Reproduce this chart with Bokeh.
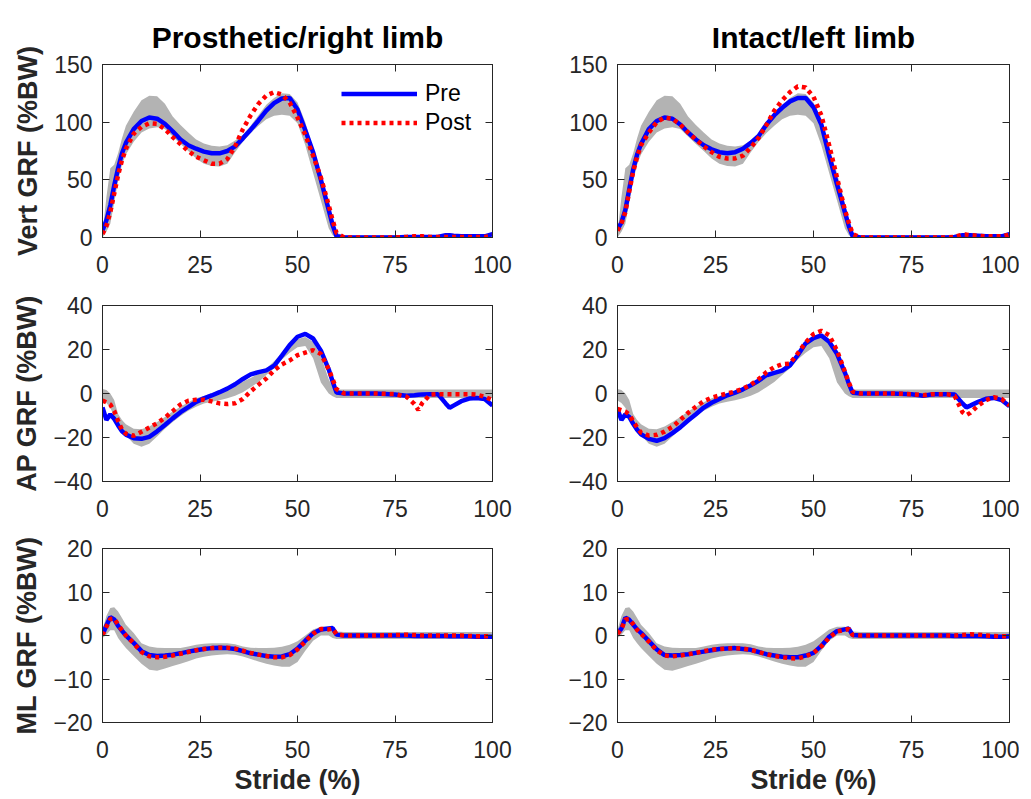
from bokeh.plotting import figure
from bokeh.layouts import column, row
from bokeh.models import LinearAxis, FixedTicker, Legend, LegendItem, Range1d
from bokeh.embed import file_html
from bokeh.resources import INLINE

# ---------------- data ----------------
stride = [0, 1, 2, 3, 4, 5, 6, 8, 10, 12, 14, 16, 18, 20, 22, 24, 26, 28, 30, 32,
          34, 36, 38, 40, 42, 44, 46, 48, 50, 52, 54, 56, 58, 59, 60, 62, 65, 70, 75, 78,
          80, 81, 82, 84, 86, 88, 89, 90, 92, 94, 96, 98, 100]

# Vertical GRF (%BW) - control band
vert_band_hi = [4, 35, 60, 63, 73, 86, 97, 109, 119, 123, 122.5, 116, 105, 97.5, 91, 85, 81.5, 79.5, 79, 80,
                84, 89, 97, 106, 115, 121, 125, 124.5, 117, 100, 77, 56, 30, 16, 4, 2, 2, 2, 2, 2,
                2, 2, 2, 2, 2, 2.5, 2.5, 2.5, 2, 2, 2, 2, 2.5]
vert_band_lo = [0, 5, 12, 30, 49, 63, 72, 83, 91, 94.5, 95.5, 94, 87.5, 81, 75, 68.5, 64, 62, 61.5, 64,
                74, 83, 90.5, 97, 102.5, 105.5, 106.5, 105.5, 99, 80, 56, 32, 8, 2, 0, 0, 0, 0, 0, 0,
                0, 0, 0, 0, 0, 0, 0, 0, 0, 0, 0, 0, 0]
vert_pre_prosthetic = [6, 15, 28, 45, 60, 73, 82, 94, 101, 104, 103, 98.5, 92, 85, 80, 77, 74.5, 73, 73, 75,
                       79, 86, 93.5, 101.5, 110, 116.5, 120.5, 121, 111, 93, 74, 50, 24, 11, 1, 0, 0, 0, 0, 0.5,
                       0.5, 0.5, 0.5, 0.5, 0.5, 2, 2, 1.5, 1, 1, 1, 1, 3]
vert_post_prosthetic = [3, 10, 22, 38, 54, 67, 77, 90, 96, 99, 98.5, 94, 87, 81, 75, 70, 67, 64, 64, 68,
                        79, 94, 106, 116, 123, 126, 124, 117, 104, 89, 71, 52, 28, 15, 4, 0, 0, 0, 0, 0.5,
                        1, 1, 1, 0.5, 0.5, 0.5, 0.5, 0.5, 0.5, 0.5, 0.5, 0.5, 1.5]
vert_pre_intact = [7, 13, 24, 42, 59, 72, 81, 94, 101, 104, 103, 98, 91, 85, 80, 76.5, 74, 73, 74, 77,
                   82, 88, 98, 106, 112.5, 118, 121, 121, 113, 98, 71, 46, 22, 10, 1, 0, 0, 0, 0, 0,
                   0, 0, 0, 0, 0.5, 2, 2, 2, 1.5, 1, 1, 1, 3]
vert_post_intact = [6, 12, 22, 40, 57, 70, 80, 91, 100, 104, 103, 98, 91, 85, 79, 74, 70, 68.5, 68.5, 71,
                    78, 86.5, 97.5, 110, 119, 126, 131, 130, 122, 106, 80, 52, 24, 13, 3, 0, 0, 0, 0, 0,
                    0, 0, 0, 0, 0.5, 2.5, 2.5, 2, 1.5, 1, 1, 1, 2.5]

# Anterior-posterior GRF (%BW)
ap_band_hi = [2.1, 1.6, 0, -3, -9.3, -12, -14, -16, -16.2, -15, -13, -10.7, -8.2, -6, -4, -2.2, -1.1, 0.1, 1.3, 2.8,
              4.3, 5.5, 7.1, 9, 11.4, 14.7, 18.3, 21.7, 24.8, 25.7, 23.5, 17, 6.5, 3, 1.8, 1.8, 1.8, 1.8, 1.8, 1.8,
              1.8, 1.8, 1.8, 1.8, 1.8, 1.8, 1.8, 1.8, 1.8, 1.8, 1.8, 1.8, 1.8]
ap_band_lo = [-3.2, -4.3, -6.5, -10.5, -13.5, -16.5, -19, -22.8, -24.2, -22.8, -19.5, -16, -13, -10.2, -7.8, -6, -4.5, -3.7, -3.1, -2.2,
              -1, 0.6, 2.8, 5.2, 8.4, 11.5, 15.4, 18.5, 21, 21.6, 16, 5, 0, -1.2, -2, -2, -2, -2, -2, -2,
              -2, -2, -2, -2, -2, -2, -2, -2, -2, -2, -2, -2, -2]
ap_pre_prosthetic = [-6.3, -12, -9.5, -11.5, -14.5, -17.2, -18.7, -20.3, -20.6, -19.7, -17.2, -14.3, -11.3, -8.5, -6.2, -3.8, -2.2, -0.9, 0.6, 2.2,
                     4.2, 6.6, 8.7, 9.7, 10.5, 12.6, 17.2, 22, 25.8, 27.1, 25, 19.5, 11, 5.5, 0.5, 0, 0, 0, -0.5, -1,
                     -0.8, -0.6, -0.4, -0.3, -0.3, -4.5, -6.5, -5.5, -3.5, -2.3, -2, -2.5, -5.5]
ap_post_prosthetic = [-3.2, -4, -5, -8, -12.5, -16.5, -18.3, -19.2, -17.4, -15.5, -13.5, -11, -8, -5, -3.3, -2.8, -2.8, -3.6, -4.5, -4.8,
                      -4.4, -2.5, 1, 4, 6.8, 10.5, 13.2, 15, 17.4, 18.6, 19.7, 18, 11, 6.5, 2, 0, 0, 0, -0.3, -1.5,
                      -4.8, -7.5, -4.3, -0.5, -0.3, -0.3, -0.3, -0.3, -0.3, -0.3, -0.5, -1.5, -3]
ap_pre_intact = [-7, -12, -9.5, -10.6, -13.8, -16.5, -18.5, -20.6, -21.5, -20.3, -18, -15.4, -12.3, -9.4, -6.4, -4.2, -2.5, -0.8, 0.4, 1.9,
                 3.7, 5.8, 8.3, 9.4, 10.4, 12.8, 17.5, 22.8, 25.2, 26.4, 23.5, 18, 9.5, 4.5, 0.3, 0, 0, 0, -0.3, -1,
                 -0.5, -0.3, -0.3, -0.3, -0.5, -4.5, -6.3, -5.5, -3.8, -2.4, -2, -3, -5.8]
ap_post_intact = [-7, -7.6, -8.2, -9.5, -12.6, -15.5, -17.8, -19.1, -18.8, -17.3, -15.2, -12, -8.8, -6, -3.5, -1.9, -0.9, 0, 0.9, 2.2,
                  4, 6.5, 9.7, 12, 13.3, 13.6, 18.3, 23.2, 27, 28.5, 26.5, 19.5, 10, 5, 0.8, 0, 0, 0, -0.3, -0.8,
                  -0.3, -0.3, -0.3, -0.3, -1, -8.5, -9.8, -8.8, -5.5, -3, -1.7, -2.5, -5.5]

# Medio-lateral GRF (%BW)
ml_band_hi = [1.3, 4.5, 6.3, 6.5, 5.5, 4, 2.5, 0.6, -1.8, -2.5, -2.8, -2.9, -2.9, -2.9, -2.5, -2.1, -1.9, -1.8, -1.8, -1.8,
              -2, -2.5, -2.8, -2.9, -2.9, -2.8, -2.6, -2.1, -1.3, 0, 1.4, 2, 2, 1.4, 0.9, 0.8, 0.8, 0.8, 0.8, 0.8,
              0.8, 0.8, 0.8, 0.8, 0.8, 0.8, 0.8, 0.8, 0.8, 0.8, 0.8, 0.8, 0.8]
ml_band_lo = [-0.6, 0.2, 1.2, 1.2, -0.6, -1.8, -2.9, -4.7, -6.5, -7.9, -8.1, -7.6, -7, -6.5, -5.9, -5.3, -4.9, -4.6, -4.4, -4.3,
              -4.4, -4.8, -5.4, -6, -6.5, -6.9, -7.2, -7.2, -6.1, -3.5, -1.2, 0, 0, -0.6, -0.8, -0.8, -0.8, -0.8, -0.8, -0.8,
              -0.8, -0.8, -0.8, -0.8, -0.8, -0.8, -0.8, -0.8, -0.8, -0.8, -0.8, -0.8, -0.8]
ml_pre_prosthetic = [0.2, 2.3, 4.2, 3.7, 2.2, 1.1, 0, -1.7, -3.6, -4.5, -4.7, -4.6, -4.4, -4.1, -3.7, -3.4, -3.1, -2.9, -2.8, -2.9,
                     -3.1, -3.6, -4.1, -4.4, -4.7, -4.9, -4.8, -4.3, -3, -1.2, 0.5, 1.4, 1.6, 1.7, 0.2, 0, 0, 0, 0, 0,
                     -0.1, -0.1, -0.1, -0.1, -0.1, -0.1, -0.2, -0.2, -0.2, -0.2, -0.3, -0.3, -0.3]
ml_post_prosthetic = [0.1, 2, 3.8, 3.9, 2.5, 1.2, 0, -1.8, -3.8, -4.8, -5, -4.9, -4.6, -4.2, -3.8, -3.4, -3.1, -2.9, -2.8, -2.8,
                      -3, -3.5, -4, -4.4, -4.7, -5, -5, -4.5, -3.2, -1.4, 0.4, 1.5, 1.4, 1.6, 0.3, 0, 0, 0, 0.1, 0.2,
                      0.1, 0.1, 0, 0, 0, 0, 0, 0, 0, -0.1, -0.2, -0.2, -0.2]
ml_pre_intact = [0.5, 1.6, 4.1, 3.6, 2.5, 1.4, 0.6, -1.3, -3.2, -4.5, -4.6, -4.5, -4.3, -4, -3.7, -3.4, -3.1, -3, -2.9, -3.1,
                 -3.3, -3.8, -4.3, -4.6, -4.9, -5, -5, -4.6, -4, -2.4, -0.3, 1, 1.4, 1.6, 0.1, 0, 0, 0, 0, 0,
                 0, 0, 0, 0, -0.1, -0.1, -0.1, -0.1, -0.1, -0.2, -0.3, -0.3, -0.2]
ml_post_intact = [0.4, 1.5, 3.7, 3.8, 2.6, 1.3, 0.4, -1.4, -3.4, -4.6, -4.8, -4.6, -4.3, -4, -3.6, -3.3, -3.1, -3, -2.9, -3,
                  -3.3, -3.8, -4.3, -4.7, -5, -5.2, -5.3, -4.8, -4, -2.5, -0.5, 0.9, 1.3, 1.5, 0.1, 0, 0, 0, 0, 0,
                  0, 0, 0, 0, 0, 0.1, 0.2, 0.3, 0.2, 0, -0.1, -0.2, -0.2]

col_titles = ["Prosthetic/right limb", "Intact/left limb"]
row_labels = ["Vert GRF (%BW)", "AP GRF (%BW)", "ML GRF (%BW)"]
x_ticks = [0, 25, 50, 75, 100]
y_ranges = [(0, 150), (-40, 40), (-20, 20)]
y_ticks = [[0, 50, 100, 150], [-40, -20, 0, 20, 40], [-20, -10, 0, 10, 20]]
bands = [(vert_band_lo, vert_band_hi), (ap_band_lo, ap_band_hi), (ml_band_lo, ml_band_hi)]
pre = [[vert_pre_prosthetic, vert_pre_intact], [ap_pre_prosthetic, ap_pre_intact], [ml_pre_prosthetic, ml_pre_intact]]
post = [[vert_post_prosthetic, vert_post_intact], [ap_post_prosthetic, ap_post_intact], [ml_post_prosthetic, ml_post_intact]]

# ---------------- style ----------------
FONT = "Liberation Sans"
AXC = "#262626"
TICK_FS = "23px"
LABEL_FS = "27px"
TITLE_FS = "30px"
BAND = "#b3b3b3"
BLUE = "#0000ff"
RED = "#ff0000"

col_geom = [dict(left=102, right=20, frame=390), dict(left=105, right=10, frame=392)]
row_geom = [dict(top=64, bottom=46, frame=173), dict(top=22, bottom=46, frame=176), dict(top=21, bottom=77, frame=174)]


def style_axis(ax, ticks, labels=True):
    ax.ticker = FixedTicker(ticks=ticks)
    ax.major_tick_in = 7
    ax.major_tick_out = 0
    ax.minor_tick_line_color = None
    ax.axis_line_color = AXC
    ax.major_tick_line_color = AXC
    ax.major_label_text_font = FONT
    if labels:
        ax.major_label_text_color = AXC
        ax.major_label_text_font_size = TICK_FS
    else:
        ax.major_label_text_color = None
        ax.major_label_text_font_size = "1px"
        ax.major_label_standoff = 0
    ax.axis_label_text_font = FONT
    ax.axis_label_text_font_style = "bold"
    ax.axis_label_text_font_size = LABEL_FS
    ax.axis_label_text_color = AXC


rows = []
for r in range(3):
    figs = []
    for c in range(2):
        cg, rg = col_geom[c], row_geom[r]
        p = figure(width=cg["left"] + cg["frame"] + cg["right"],
                   height=rg["top"] + rg["frame"] + rg["bottom"],
                   x_range=Range1d(0, 100), y_range=Range1d(*y_ranges[r]),
                   output_backend="svg", toolbar_location=None,
                   min_border_left=cg["left"], min_border_right=cg["right"],
                   min_border_top=rg["top"], min_border_bottom=rg["bottom"])
        p.xgrid.visible = False
        p.ygrid.visible = False
        p.outline_line_color = AXC
        p.background_fill_color = "white"
        p.border_fill_color = "white"

        style_axis(p.xaxis[0], x_ticks)
        p.xaxis[0].major_label_standoff = 18
        style_axis(p.yaxis[0], y_ticks[r])
        p.yaxis[0].major_label_standoff = 10
        if c == 0:
            p.yaxis[0].axis_label = row_labels[r]
            p.yaxis[0].axis_label_standoff = 8
        if r == 2:
            p.xaxis[0].axis_label = "Stride (%)"
            p.xaxis[0].axis_label_standoff = 4

        top_ax = LinearAxis()
        style_axis(top_ax, x_ticks, labels=False)
        p.add_layout(top_ax, "above")
        right_ax = LinearAxis()
        style_axis(right_ax, y_ticks[r], labels=False)
        p.add_layout(right_ax, "right")

        if r == 0:
            p.title.text = col_titles[c]
            p.title.align = "center"
            p.title.text_font = FONT
            p.title.text_font_size = TITLE_FS
            p.title.text_font_style = "bold"
            p.title.text_color = "black"
            p.title.standoff = 22

        lo, hi = bands[r]
        p.varea(x=stride, y1=lo, y2=hi, fill_color=BAND, fill_alpha=1.0)
        rp = p.line(stride, pre[r][c], line_color=BLUE, line_width=4.5)
        rq = p.line(stride, post[r][c], line_color=RED, line_width=4.5, line_dash="4 4")

        if r == 0 and c == 0:
            legend = Legend(items=[LegendItem(label="Pre", renderers=[rp]),
                                   LegendItem(label="Post", renderers=[rq])],
                            location=(239, 100), glyph_width=76, glyph_height=29,
                            label_height=29, spacing=0, padding=0, margin=0,
                            label_standoff=8, border_line_alpha=0,
                            background_fill_alpha=0,
                            label_text_font=FONT, label_text_font_size=TICK_FS,
                            label_text_color="black")
            p.add_layout(legend)
        figs.append(p)
    rows.append(row(*figs, spacing=0))

layout = column(*rows, spacing=0)
open("out.html", "w").write(file_html(layout, INLINE))
